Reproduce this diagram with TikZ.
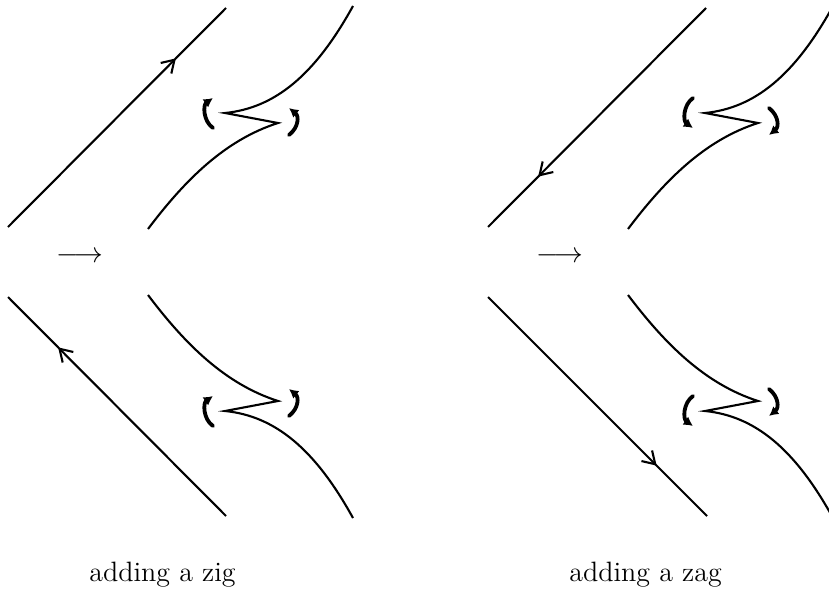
\documentclass[tikz,border=0pt]{standalone}
\usetikzlibrary{arrows.meta,decorations.markings}
\tikzset{
  strand/.style={line width=1.05pt},
  twist/.style={line width=1.9pt, line cap=round},
  midarrow/.style={postaction={decorate}, decoration={markings,
     mark=at position 0.77 with {\arrow{Straight Barb[length=6pt,width=7.5pt,line width=1.05pt]}}}},
  tipend/.style={-{Latex[length=4.6pt,width=5pt]}},
  tipstart/.style={{Latex[length=4.6pt,width=5pt]}-},
  caption/.style={font=\fontsize{14}{17}\selectfont, anchor=base west},
  trans/.style={font=\fontsize{13.5}{16}\selectfont}
}
\newcommand\cuspfig[2]{%
  \draw[strand] (148,229) .. controls (185,180) and (225,140) .. (278,123)
     -- (225,113) .. controls (275,108) and (315,75) .. (353,6);
  \draw[twist,#1] (213,128) .. controls (203,121) and (203,105) .. (213,98);
  \draw[twist,#2] (289,135) .. controls (299,127) and (299,116) .. (289,108);
}
\begin{document}
\begin{tikzpicture}[x=0.5pt,y=-0.5pt]
\useasboundingbox (0,0) rectangle (829,589);
% ---- zig: top
\coordinate (za) at (8,227); \coordinate (zb) at (226,8);
\draw[strand,midarrow] (za) -- (zb);
\cuspfig{tipend}{tipend}
\node[trans] (t1) at (80,257) {$\longrightarrow$};
% ---- zig: bottom
\coordinate (zc) at (226,516); \coordinate (zd) at (8,297);
\draw[strand,midarrow] (zc) -- (zd);
\begin{scope}[shift={(0,524)},yscale=-1]
\cuspfig{tipstart}{tipstart}
\end{scope}
\node[caption,inner sep=0pt] (c1) at (89,581) {adding a zig};
% ---- zag
\begin{scope}[xshift=240pt]
\coordinate (wa) at (226,8); \coordinate (wb) at (8,227);
\draw[strand,midarrow] (wa) -- (wb);
\cuspfig{tipstart}{tipstart}
\node[trans] (t2) at (80,257) {$\longrightarrow$};
\coordinate (wc) at (8,297); \coordinate (wd) at (227,516);
\draw[strand,midarrow] (wc) -- (wd);
\begin{scope}[shift={(0,524)},yscale=-1]
\cuspfig{tipend}{tipend}
\end{scope}
\node[caption,inner sep=0pt] (c2) at (89,581) {adding a zag};
\end{scope}
\end{tikzpicture}
\end{document}
